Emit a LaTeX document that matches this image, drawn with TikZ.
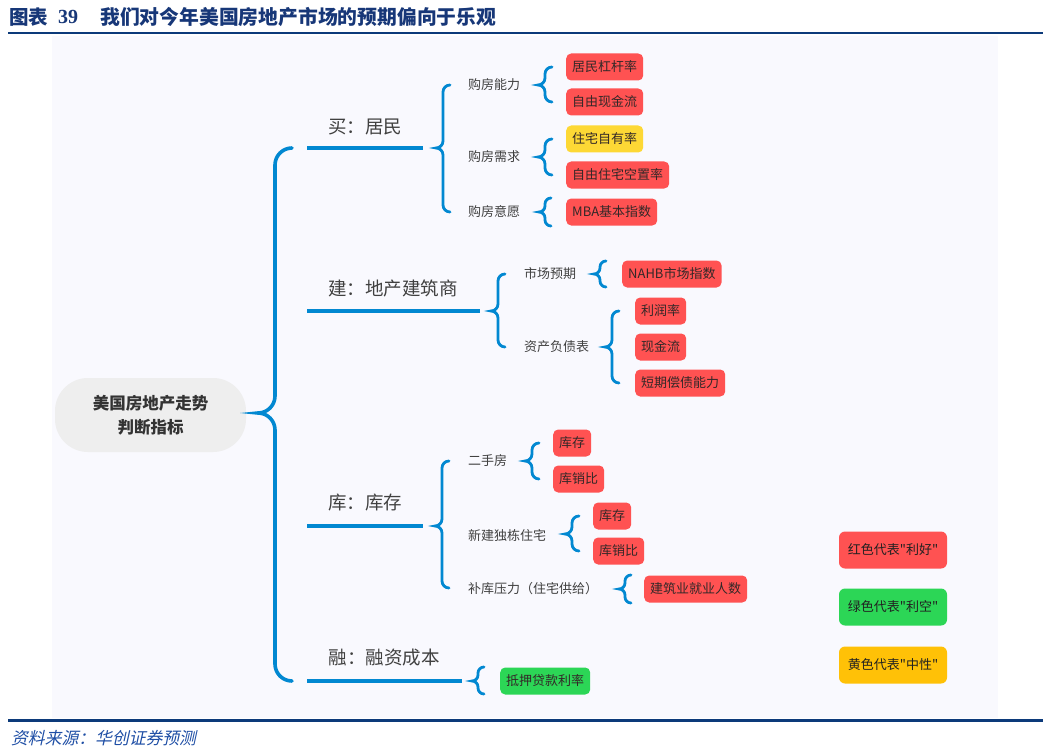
\documentclass[tikz,border=0pt]{standalone}
\usepackage{fontspec}
\setmainfont{Noto Sans CJK SC}
\newfontfamily\numfont{Liberation Serif}
\newfontfamily\slfont{Noto Sans CJK SC}[FakeSlant=0.22]
\newfontfamily\legfont{Noto Sans CJK SC}[Ligatures=TeXOff]
\definecolor{braceblue}{RGB}{2,136,209}
\definecolor{titleblue}{RGB}{23,55,120}
\definecolor{lineblue}{RGB}{12,58,122}
\definecolor{panelbg}{RGB}{249,249,254}
\definecolor{boxred}{RGB}{255,82,82}
\definecolor{boxgreen}{RGB}{44,214,86}
\definecolor{boxyellow}{RGB}{253,216,53}
\definecolor{legyellow}{RGB}{255,193,7}
\definecolor{centergray}{RGB}{238,238,238}
\definecolor{labelgray}{RGB}{64,64,64}
\definecolor{boxtext}{RGB}{51,40,40}
\definecolor{footblue}{RGB}{30,78,165}
\newcommand\curly[6][brace]{%
  \draw[#1] ({#2+#6},{#3}) .. controls ({#2+0.448*#6},{#3}) and ({#2},{#3+0.448*#6}) .. ({#2},{#3+#6})
    -- ({#2},{#4-#6}) .. controls ({#2},{#4-0.448*#6}) and ({#2-0.448*#6},{#4}) .. ({#2-#6},{#4})
    .. controls ({#2-0.448*#6},{#4}) and ({#2},{#4+0.448*#6}) .. ({#2},{#4+#6})
    -- ({#2},{#5-#6}) .. controls ({#2},{#5-0.448*#6}) and ({#2+0.448*#6},{#5}) .. ({#2+#6},{#5});}
\begin{document}
\begin{tikzpicture}[x=1pt,y=-1pt,
  brace/.style={draw=braceblue,line width=2.8pt,line cap=round},
  bigbrace/.style={draw=braceblue,line width=3.6pt,line cap=round},
  branch/.style={draw=braceblue,line width=4pt},
  lvlone/.style={font=\fontsize{18.5}{20}\selectfont,text=labelgray,inner sep=0pt},
  lvltwo/.style={anchor=west,font=\fontsize{13}{15}\selectfont,text=labelgray,inner sep=0pt},
  leaf/.style={anchor=west,rounded corners=5pt,minimum height=27pt,inner xsep=6pt,inner ysep=0pt,font=\fontsize{13}{15}\selectfont,text=boxtext},
  redbox/.style={leaf,fill=boxred},
  greenbox/.style={leaf,fill=boxgreen},
  yellowbox/.style={leaf,fill=boxyellow},
  legend/.style={rounded corners=6pt,minimum width=108pt,minimum height=37pt,inner sep=0pt,font=\legfont\fontsize{13}{15}\selectfont,text=black!87}
]
\useasboundingbox[fill=white] (0,0) rectangle (1051,754);
% panel and rules
\fill[panelbg] (52,36) rectangle (998,718);
\draw[lineblue,line width=2.6pt] (8,33) -- (1043,33);
\draw[lineblue,line width=2.6pt] (8,720.5) -- (1043,720.5);
% title
\node[anchor=west,inner sep=0pt,text=titleblue,font=\bfseries\fontsize{19.5}{21}\selectfont] (tA) at (9,17) {图表};
\node[anchor=west,inner sep=0pt,text=titleblue,font=\numfont\bfseries\fontsize{20}{21}\selectfont] (tB) at (58,17) {39};
\node[anchor=west,inner sep=0pt,text=titleblue,font=\bfseries\fontsize{19.8}{21}\selectfont] (tC) at (100,17) {我们对今年美国房地产市场的预期偏向于乐观};
% footer
\node[anchor=west,inner sep=0pt,text=footblue,font=\slfont\fontsize{16.8}{18}\selectfont] (foot) at (11,738) {资料来源：华创证券预测};
% root
\node[fill=centergray,rounded corners=33pt,minimum width=191pt,minimum height=74pt,align=center,inner sep=0pt,
  font=\bfseries\fontsize{16.5}{24}\selectfont,text=black!80] (root) at (150.5,415) {美国房地产走势\\判断指标};
% big brace
\curly[bigbrace]{275}{148}{413}{681}{17}
% level one branches
\draw[branch] (307,148) -- (423,148);
\draw[branch] (307,311) -- (480,311);
\draw[branch] (307,526) -- (423,526);
\draw[branch] (307,681) -- (462,681);
\node[lvlone] (b1) at (365,127) {买：居民};
\node[lvlone] (b2) at (393,288) {建：地产建筑商};
\node[lvlone] (b3) at (365,503) {库：库存};
\node[lvlone] (b4) at (384,658) {融：融资成本};
% level one braces
\curly{443}{85}{148}{212}{7}
\curly{498}{274}{311}{347}{7}
\curly{442}{461}{526}{588}{7}
\curly{478}{667}{681}{694}{6}
% level two labels
\node[lvltwo] (c11) at (468,85) {购房能力};
\node[lvltwo] (c12) at (468,157) {购房需求};
\node[lvltwo] (c13) at (468,212) {购房意愿};
\node[lvltwo] (c21) at (524,274) {市场预期};
\node[lvltwo] (c22) at (524,347) {资产负债表};
\node[lvltwo] (c31) at (468,461) {二手房};
\node[lvltwo] (c32) at (468,535) {新建独栋住宅};
\node[lvltwo] (c33) at (468,589) {补库压力（住宅供给）};
% level two braces
\curly{545}{67}{85}{102}{7}
\curly{545}{139}{157}{175}{7}
\curly{545}{198}{212}{226}{6}
\curly{600}{261}{274}{287}{6}
\curly{612}{311}{347}{383}{7}
\curly{532}{443}{461}{479}{7}
\curly{572}{516}{534}{551}{7}
\curly{625}{575}{589}{603}{6}
% leaves
\node[redbox] (d1) at (566,67) {居民杠杆率};
\node[redbox] (d2) at (566,102) {自由现金流};
\node[yellowbox] (d3) at (566,139) {住宅自有率};
\node[redbox] (d4) at (566,175) {自由住宅空置率};
\node[redbox] (d5) at (566,212) {MBA基本指数};
\node[redbox] (d6) at (622,274) {NAHB市场指数};
\node[redbox] (d7) at (635,311) {利润率};
\node[redbox] (d8) at (635,347) {现金流};
\node[redbox] (d9) at (635,383) {短期偿债能力};
\node[redbox] (d10) at (553,443) {库存};
\node[redbox] (d11) at (553,479) {库销比};
\node[redbox] (d12) at (593,516) {库存};
\node[redbox] (d13) at (593,551) {库销比};
\node[redbox] (d14) at (644,589) {建筑业就业人数};
\node[greenbox] (d15) at (500,681) {抵押贷款利率};
% legend
\node[legend,fill=boxred] (l1) at (893,550) {红色代表"利好"};
\node[legend,fill=boxgreen] (l2) at (893,607) {绿色代表"利空"};
\node[legend,fill=legyellow] (l3) at (893,665) {黄色代表"中性"};
\end{tikzpicture}
\end{document}
